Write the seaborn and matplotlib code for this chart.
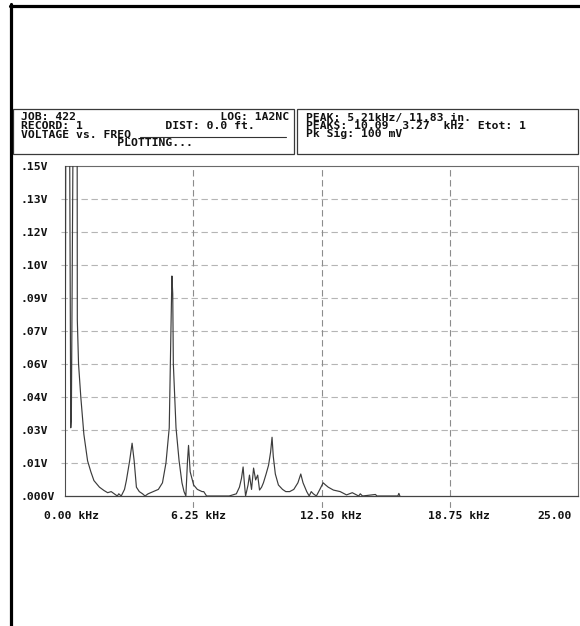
import matplotlib
matplotlib.use("Agg")
import matplotlib.pyplot as plt
from matplotlib.lines import Line2D
from matplotlib.patches import Rectangle
from matplotlib.transforms import ScaledTranslation, blended_transform_factory
import pandas as pd
import seaborn as sns

# Spectrum trace: frequency (kHz) and amplitude (V); values above .15V run off the top
freq_khz = [0.00, 0.07, 0.17, 0.28, 0.31, 0.48, 0.58, 0.60, 0.66, 0.77, 0.92, 1.10,
            1.26, 1.41, 1.68, 1.90, 2.08, 2.25, 2.40, 2.55, 2.62, 2.74, 2.90, 2.99,
            3.15, 3.27, 3.37, 3.48, 3.62, 3.78, 3.90, 4.05, 4.30, 4.55, 4.75, 4.92,
            5.08, 5.16, 5.21, 5.25, 5.28, 5.41, 5.56, 5.70, 5.80, 5.89, 5.97, 6.02,
            6.10, 6.27, 6.45, 6.68, 6.76, 6.90, 7.32, 8.00, 8.35, 8.50, 8.60, 8.68,
            8.74, 8.80, 8.92, 8.99, 9.09, 9.19, 9.29, 9.39, 9.48, 9.58, 9.67, 9.80,
            9.92, 10.02, 10.09, 10.15, 10.25, 10.40, 10.60, 10.76, 10.95, 11.15, 11.35, 11.49,
            11.60, 11.78, 11.90, 12.00, 12.10, 12.25, 12.42, 12.58, 12.70, 12.83, 13.08, 13.41,
            13.72, 14.00, 14.31, 14.39, 14.50, 15.13, 15.20, 16.22, 16.27, 16.32]
volts = [0.000, 0.300, 0.300, 0.031, 0.036, 0.300, 0.300, 0.080, 0.060, 0.045, 0.028, 0.016,
         0.011, 0.007, 0.004, 0.0025, 0.0015, 0.002, 0.001, 0.000, 0.001, 0.000, 0.003, 0.007,
         0.016, 0.024, 0.016, 0.004, 0.002, 0.001, 0.000, 0.001, 0.002, 0.003, 0.006, 0.015,
         0.031, 0.074, 0.100, 0.092, 0.060, 0.031, 0.016, 0.006, 0.002, 0.000, 0.016, 0.023,
         0.011, 0.005, 0.003, 0.002, 0.002, 0.000, 0.000, 0.000, 0.001, 0.004, 0.008, 0.0132,
         0.006, 0.000, 0.005, 0.0095, 0.003, 0.0127, 0.0073, 0.0095, 0.0027, 0.004, 0.006, 0.010,
         0.014, 0.020, 0.0267, 0.018, 0.010, 0.005, 0.003, 0.002, 0.002, 0.003, 0.006, 0.010,
         0.006, 0.002, 0.000, 0.002, 0.001, 0.000, 0.003, 0.006, 0.005, 0.004, 0.0027, 0.002,
         0.0005, 0.0015, 0.000, 0.001, 0.000, 0.0007, 0.000, 0.000, 0.0012, 0.000]

y_ticks = [0.0, 0.015, 0.03, 0.045, 0.06, 0.075, 0.09, 0.105, 0.12, 0.135, 0.15]
y_tick_labels = [".000V", ".01V", ".03V", ".04V", ".06V", ".07V", ".09V", ".10V",
                 ".12V", ".13V", ".15V"]
x_ticks = [0.0, 6.25, 12.5, 18.75, 25.0]
x_tick_labels = ["0.00 kHz", "6.25 kHz", "12.50 kHz", "18.75 kHz", "25.00"]
x_grid = [6.25, 12.5, 18.75]

job_block = ("JOB: 422" + " " * 21 + "LOG: 1A2NC\n"
             "RECORD: 1" + " " * 12 + "DIST: 0.0 ft.\n"
             "VOLTAGE vs. FREQ\n"
             + " " * 14 + "PLOTTING...")
peak_block = ("PEAK: 5.21kHz/ 11.83 in.\n"
              "PEAKS: 10.09  3.27  kHz  Etot: 1\n"
              "Pk Sig: 100 mV")

sns.set_style("white")
plt.rcParams["font.family"] = ["DejaVu Sans Mono"]
plt.rcParams["font.weight"] = "bold"
plt.rcParams["lines.scale_dashes"] = False

W, H = 580, 626
fig = plt.figure(figsize=(W / 100, H / 100), dpi=100)
fig.patch.set_facecolor("white")


def fx(x):
    return x / W


def fy(y):
    return 1 - y / H


FS = 8.2
LS = 0.81

# Page frame (thick black top and left edges)
fig.add_artist(Line2D([fx(11), fx(11)], [fy(4), fy(H)], color="black", lw=2.3))
fig.add_artist(Line2D([fx(10), fx(W)], [fy(5.5), fy(5.5)], color="black", lw=2.3))

# Header boxes
for x0, x1 in [(13, 294), (297, 578)]:
    fig.add_artist(Rectangle((fx(x0), fy(154)), fx(x1 - x0), (154 - 109) / H,
                             fill=False, edgecolor="#3a3a3a", lw=0.9))

fig.text(fx(21), fy(112.5), job_block, fontsize=FS, va="top", ha="left",
         linespacing=LS, color="#111111")
fig.add_artist(Line2D([fx(140), fx(286)], [fy(136.5), fy(136.5)], color="#333333", lw=0.8))
fig.text(fx(306), fy(112.5), peak_block, fontsize=FS, va="top", ha="left",
         linespacing=LS, color="#111111")

# Plot area
ax = fig.add_axes([fx(65), fy(496), (578 - 65) / W, (496 - 166) / H])
ax.set_xlim(0, 25)
ax.set_ylim(0, 0.15)

for yv in y_ticks[1:-1]:
    ax.axhline(yv, xmin=-0.008, xmax=1, color="#b5b5b5", lw=0.8,
               linestyle=(0, (4.6, 2.6)), clip_on=False, zorder=1)
for xv in x_grid:
    ax.axvline(xv, color="#8c8c8c", lw=0.8, linestyle=(0, (4.6, 2.6)), zorder=1)

trace = pd.DataFrame({"kHz": freq_khz, "V": volts})
sns.lineplot(data=trace, x="kHz", y="V", ax=ax, estimator=None, sort=False,
             color="#3c3c3c", lw=0.85, zorder=3)

for side in ["top", "right", "left"]:
    ax.spines[side].set_color("#6a6a6a")
    ax.spines[side].set_linewidth(0.8)
ax.spines["bottom"].set_color("#444444")
ax.spines["bottom"].set_linewidth(0.9)

ax.set_xlabel("")
ax.set_ylabel("")
ax.set_yticks(y_ticks)
ax.set_yticklabels(y_tick_labels, ha="left", fontsize=FS, color="#111111")
ax.tick_params(axis="y", length=0, pad=32.4)

ax.set_xticks(x_ticks)
ax.set_xticklabels(x_tick_labels, ha="left", fontsize=FS, color="#111111")
ax.tick_params(axis="x", length=0, pad=10.5)
shifts = [-20.5, -22.5, -22, -22, -41]
for lab, s in zip(ax.get_xticklabels(), shifts):
    lab.set_transform(lab.get_transform() + ScaledTranslation(s / 100, 0, fig.dpi_scale_trans))

# short tick marks below the axis
bt = blended_transform_factory(ax.transData, ax.transAxes)
for xv in x_grid:
    ax.add_artist(Line2D([xv, xv], [-6 / 330, -11 / 330], transform=bt, color="#8c8c8c",
                         lw=0.8, clip_on=False))

fig.savefig("out.png", dpi=100)
